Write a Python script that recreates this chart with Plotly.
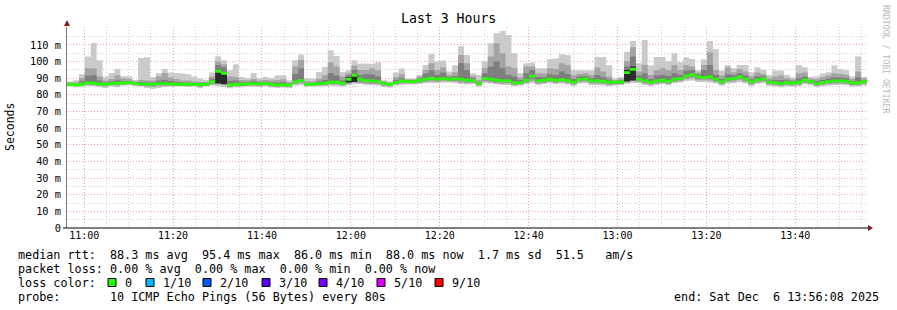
import plotly.graph_objects as go
import pandas as pd

# ---------------- data (ms) ----------------
START = "2025-12-06 10:56:08"
STEP_S = 80

median = [86.4, 86.0, 86.4, 87.2, 87.0, 86.6, 86.4, 86.8, 87.0, 87.2, 87.4, 86.8, 86.6, 86.4, 86.4, 86.8, 86.8, 86.6, 86.4, 86.4,
          86.4, 86.4, 86.2, 86.4, 88.0, 94.2, 93.0, 86.0, 86.4, 86.4, 86.6, 86.8, 86.6, 86.8,
          86.4, 86.0, 86.0, 86.0, 87.8, 88.6, 86.4, 86.4, 86.8, 87.0, 87.6, 87.6, 87.0, 89.4, 91.8, 89.4,
          88.6, 88.4, 88.0, 86.8, 86.4, 87.4, 88.4, 88.0, 88.0, 88.8, 89.4, 90.0, 89.4, 89.8, 89.4, 89.6, 89.4,
          88.8, 88.6, 86.8, 89.8, 89.4, 88.8, 88.4, 88.4, 87.2, 87.4, 88.8, 91.2, 88.4, 88.8, 89.4, 88.8, 89.2,
          88.6, 87.6, 89.2, 89.6, 88.4, 88.4, 88.2, 87.6, 87.6, 87.8, 93.4, 95.4, 89.4, 88.4, 87.6, 88.4, 88.8,
          88.2, 89.4, 89.8, 91.4, 92.2, 90.8, 90.4, 90.8, 89.4, 87.8, 89.4, 89.8, 90.8, 89.4, 87.8, 89.0, 89.6,
          87.6, 87.2, 86.8, 87.4, 87.0, 87.6, 88.8, 88.0, 86.8, 87.4, 88.0, 88.4, 88.4, 88.2, 87.2, 87.2, 88.0]

smoke_hi1 = [88.0, 88.8, 92.4, 103.0, 111.2, 100.8, 91.0, 93.2, 95.6, 91.2, 91.2, 89.0, 102.2, 102.6, 90.8, 93.0, 95.6, 93.4, 93.2, 92.8,
             92.4, 91.0, 89.8, 89.0, 93.4, 103.2, 100.8, 94.8, 98.4, 90.8, 90.2, 93.2, 90.2, 90.8,
             90.2, 91.8, 91.8, 88.8, 100.8, 104.2, 89.8, 89.8, 93.8, 96.8, 106.8, 103.4, 93.8, 94.8, 100.8, 98.8,
             98.8, 98.6, 99.6, 88.8, 88.0, 93.4, 95.8, 89.8, 89.8, 92.0, 98.0, 104.6, 100.0, 100.6, 94.0, 97.8, 109.2,
             104.0, 93.0, 92.0, 100.0, 111.0, 117.0, 118.4, 116.0, 105.2, 93.0, 99.0, 99.4, 96.0, 96.0, 101.6, 101.8, 104.4,
             104.0, 94.8, 94.8, 94.8, 94.8, 102.8, 102.8, 97.8, 89.8, 90.8, 106.0, 112.4, 99.0, 113.0, 97.8, 102.8, 102.8,
             100.2, 105.0, 99.6, 102.6, 101.6, 94.8, 101.4, 112.4, 107.4, 94.6, 98.0, 96.0, 98.0, 98.0, 93.6, 96.6, 95.0,
             92.0, 94.6, 94.6, 92.0, 90.6, 98.0, 96.6, 90.8, 91.0, 92.8, 93.6, 97.8, 95.6, 94.8, 91.0, 103.0, 90.8]

smoke_hi2 = [87.4, 87.5, 90.0, 96.0, 95.8, 91.0, 88.6, 89.5, 91.8, 89.8, 89.6, 88.0, 89.0, 88.6, 88.6, 91.0, 93.2, 90.5, 89.5, 88.6,
             88.6, 88.0, 87.8, 87.8, 91.0, 100.0, 98.4, 91.0, 90.6, 89.0, 88.8, 89.6, 88.6, 89.0,
             88.6, 89.0, 89.4, 87.6, 97.0, 101.0, 88.2, 88.0, 89.6, 91.8, 99.6, 97.0, 91.0, 93.0, 97.6, 95.0,
             95.0, 96.0, 94.8, 88.0, 87.4, 90.6, 92.4, 89.2, 89.2, 91.0, 95.0, 99.0, 95.0, 96.6, 92.0, 93.6, 104.0,
             99.0, 91.4, 89.0, 96.0, 103.0, 111.0, 105.0, 97.0, 96.0, 90.6, 97.0, 97.0, 93.0, 92.8, 96.0, 95.6, 99.0,
             98.0, 91.8, 92.6, 93.0, 92.0, 96.4, 94.0, 91.0, 89.0, 89.6, 100.4, 108.6, 94.0, 98.0, 92.0, 95.0, 96.0,
             95.0, 98.0, 95.0, 98.0, 97.0, 93.4, 98.0, 105.4, 95.0, 91.6, 96.6, 93.6, 95.6, 94.0, 91.0, 93.4, 92.6,
             90.0, 91.0, 91.6, 90.0, 89.2, 93.0, 93.4, 90.0, 89.6, 90.6, 91.6, 93.0, 92.6, 92.0, 89.6, 94.0, 89.8]

smoke_hi3 = [87.0, 86.8, 88.2, 91.5, 92.0, 88.6, 87.4, 88.0, 88.8, 88.4, 88.4, 87.5, 87.8, 87.4, 87.4, 88.6, 89.0, 88.4, 87.8, 87.4,
             87.5, 87.2, 87.0, 87.0, 89.6, 98.0, 96.6, 88.4, 88.6, 87.6, 87.6, 88.2, 87.6, 87.8,
             87.4, 87.4, 87.6, 86.8, 92.6, 96.0, 87.2, 87.2, 88.0, 89.0, 93.0, 91.6, 88.8, 91.6, 95.0, 92.0,
             92.4, 92.2, 91.0, 87.6, 87.0, 89.0, 90.0, 88.8, 88.8, 90.0, 92.8, 94.6, 92.0, 93.4, 90.8, 91.2, 99.0,
             95.0, 90.0, 87.8, 93.2, 97.0, 100.0, 96.0, 92.0, 91.0, 89.0, 93.0, 95.0, 90.8, 90.6, 92.4, 92.0, 94.0,
             92.6, 89.6, 91.0, 91.4, 90.2, 92.0, 90.6, 89.2, 88.4, 88.8, 97.0, 103.0, 91.6, 93.0, 89.6, 91.6, 92.0,
             91.4, 93.0, 92.0, 94.6, 95.0, 92.2, 95.0, 98.0, 92.0, 89.6, 92.4, 91.8, 93.0, 91.6, 89.4, 91.0, 91.2,
             88.8, 89.0, 89.0, 88.8, 88.2, 90.0, 91.0, 89.0, 88.2, 89.0, 89.8, 90.4, 90.4, 90.2, 88.4, 90.6, 89.0]

smoke_lo3 = [85.9, 85.6, 85.9, 86.6, 86.4, 86.0, 85.8, 86.2, 86.3, 86.6, 86.8, 86.2, 86.0, 85.6, 85.6, 86.0, 86.0, 86.0, 85.8, 85.8,
             85.8, 85.8, 85.4, 85.8, 87.0, 88.0, 87.6, 85.4, 85.8, 85.8, 86.0, 86.2, 86.0, 86.2,
             85.8, 85.4, 85.4, 85.4, 87.2, 87.8, 85.8, 85.8, 86.2, 86.4, 87.0, 87.0, 86.4, 87.6, 88.8, 88.2,
             87.6, 87.4, 87.2, 86.0, 85.8, 86.8, 87.6, 87.4, 87.4, 88.0, 88.6, 89.0, 88.6, 89.0, 88.6, 88.8, 88.4,
             87.8, 87.8, 86.2, 88.8, 88.4, 87.8, 87.6, 87.6, 86.4, 86.8, 88.0, 89.6, 87.6, 88.0, 88.6, 88.0, 88.4,
             87.8, 86.8, 88.4, 88.8, 87.6, 87.6, 87.4, 86.8, 86.8, 87.0, 88.8, 90.0, 88.6, 87.6, 86.8, 87.6, 88.0,
             87.4, 88.6, 89.0, 90.4, 91.2, 89.8, 89.6, 89.8, 88.4, 87.0, 88.6, 89.0, 89.8, 88.6, 87.0, 88.2, 88.8,
             86.8, 86.4, 86.0, 86.6, 86.2, 86.8, 88.0, 87.2, 86.0, 86.6, 87.2, 87.6, 87.6, 87.4, 86.4, 86.4, 87.2]

smoke_lo2 = [85.5, 85.2, 85.5, 86.0, 85.8, 85.4, 85.0, 85.6, 85.6, 86.0, 86.2, 85.8, 85.4, 85.0, 84.8, 85.2, 85.4, 85.4, 85.4, 85.4,
             85.2, 85.4, 84.8, 85.4, 86.2, 86.4, 86.2, 84.8, 85.2, 85.2, 85.4, 85.6, 85.4, 85.6,
             85.0, 84.8, 84.8, 84.8, 86.4, 86.8, 85.4, 85.4, 85.6, 85.8, 86.2, 86.2, 85.6, 86.6, 87.4, 87.2,
             86.8, 86.6, 86.4, 85.4, 85.2, 86.2, 86.8, 86.8, 86.8, 87.2, 87.8, 88.0, 87.8, 88.2, 88.0, 88.0, 87.4,
             87.0, 87.2, 85.6, 88.0, 87.6, 87.0, 86.8, 86.8, 85.8, 86.2, 87.2, 88.2, 86.8, 87.2, 87.8, 87.2, 87.6,
             87.0, 86.2, 87.6, 88.0, 86.8, 86.8, 86.6, 86.0, 86.2, 86.4, 87.6, 88.4, 87.8, 86.8, 86.2, 86.8, 87.2,
             86.6, 87.8, 88.2, 89.4, 90.0, 88.8, 88.8, 88.6, 87.6, 86.4, 87.8, 88.0, 88.8, 87.8, 86.2, 87.4, 88.0,
             86.2, 85.8, 85.4, 86.0, 85.6, 86.0, 87.2, 86.6, 85.4, 86.0, 86.4, 86.8, 86.8, 86.6, 85.8, 85.8, 86.4]

smoke_lo1 = [85.2, 84.8, 85.0, 85.4, 85.2, 84.6, 84.2, 85.0, 84.6, 85.6, 85.8, 85.4, 85.0, 84.2, 83.6, 84.2, 84.8, 85.0, 85.0, 85.0,
             84.8, 85.0, 84.0, 85.0, 85.6, 85.2, 84.8, 84.0, 84.6, 84.6, 85.0, 84.8, 84.8, 85.0,
             84.4, 84.2, 84.4, 84.0, 85.6, 86.0, 85.0, 85.0, 85.0, 85.2, 85.4, 85.2, 85.0, 85.8, 86.4, 86.4,
             86.0, 85.8, 85.6, 84.8, 84.6, 85.6, 86.0, 86.2, 86.2, 86.6, 87.0, 87.2, 87.0, 87.4, 87.4, 87.2, 86.6,
             86.2, 86.6, 85.0, 87.2, 86.8, 86.2, 86.0, 86.0, 85.2, 85.6, 86.4, 87.0, 86.0, 86.4, 87.0, 86.4, 86.8,
             86.2, 85.4, 86.8, 87.2, 86.0, 86.0, 85.6, 85.2, 85.6, 85.8, 86.6, 87.2, 87.0, 86.0, 85.4, 86.0, 86.4,
             85.8, 87.0, 87.4, 88.4, 88.6, 87.8, 87.6, 87.4, 86.8, 85.6, 86.8, 87.0, 87.6, 86.8, 85.4, 86.6, 87.0,
             85.4, 85.0, 84.6, 85.2, 84.8, 85.2, 86.4, 85.8, 84.6, 85.2, 85.6, 86.0, 86.0, 85.8, 85.0, 85.0, 85.6]

# steps where the innermost pings are widely spread (black core)
dark_steps = [25, 26, 47, 48, 94, 95]
dark_hi = [94.6, 93.4, 90.6, 92.6, 95.0, 97.0]
dark_lo = [86.8, 86.4, 87.4, 87.8, 88.0, 88.6]

y_ticks = [0, 10, 20, 30, 40, 50, 60, 70, 80, 90, 100, 110]
y_tick_text = ["0", "10 m", "20 m", "30 m", "40 m", "50 m", "60 m", "70 m", "80 m", "90 m", "100 m", "110 m"]

loss_labels = ["0", "1/10", "2/10", "3/10", "4/10", "5/10", "9/10"]
loss_colors = ["#26ff00", "#00b8ff", "#0059ff", "#5e00ff", "#7e00ff", "#dd00ff", "#ff0000"]

stats_line = "median rtt:  88.3 ms avg  95.4 ms max  86.0 ms min  88.0 ms now  1.7 ms sd  51.5   am/s"
loss_line = "packet loss: 0.00 % avg  0.00 % max  0.00 % min  0.00 % now"
probe_line = "probe:       10 ICMP Echo Pings (56 Bytes) every 80s"
end_line = "end: Sat Dec  6 13:56:08 2025"

# ---------------- figure ----------------
W, H = 897, 310
L, R, T, B = 67, 867, 27, 228
MONO = "DejaVu Sans Mono"
LEG = 11.75


def px(x):
    return (x - L) / (R - L)


def py(y):
    return (B - y) / (B - T)


def nb(s):
    return s.replace(" ", "\u00a0")


times = pd.date_range(START, periods=len(median) + 1, freq=f"{STEP_S}s")
xs = [t.strftime("%Y-%m-%d %H:%M:%S") for t in times]


def ext(a):
    return list(a) + [a[-1]]


fig = go.Figure()


def band(lo, hi, color):
    fig.add_trace(go.Scatter(x=xs, y=ext(lo), mode="lines", line=dict(width=0, shape="hv"),
                             hoverinfo="skip", showlegend=False))
    fig.add_trace(go.Scatter(x=xs, y=ext(hi), mode="lines", line=dict(width=0, shape="hv"),
                             fill="tonexty", fillcolor=color, hoverinfo="skip", showlegend=False))


band(smoke_lo1, smoke_hi1, "#cacaca")
band(smoke_lo2, smoke_hi2, "#a4a4a4")
band(smoke_lo3, smoke_hi3, "#7e7e7e")

# dark cores
dx, dy = [], []
for k, hi, lo in zip(dark_steps, dark_hi, dark_lo):
    a, b = xs[k], xs[k + 1]
    dx += [a, b, b, a, a, None]
    dy += [lo, lo, hi, hi, lo, None]
fig.add_trace(go.Scatter(x=dx, y=dy, mode="lines", line=dict(width=0), fill="toself",
                         fillcolor="#2a2a2a", hoverinfo="skip", showlegend=False))

# median band
half = 0.85
band([m - half for m in median], [m + half for m in median], loss_colors[0])

grid_major = "rgba(245,140,140,0.85)"
grid_minor = "rgba(200,200,200,0.9)"
GD = "1px,2px"

fig.update_layout(
    width=W, height=H,
    margin=dict(l=L, r=W - R, t=T, b=H - B, pad=0),
    paper_bgcolor="white", plot_bgcolor="white",
    showlegend=False,
    xaxis=dict(
        type="date",
        range=[xs[0], xs[-1]],
        tick0="2025-12-06 11:00:00", dtick=20 * 60 * 1000,
        tickformat="%H:%M",
        showgrid=True, gridcolor=grid_major, gridwidth=1, griddash=GD,
        minor=dict(dtick=5 * 60 * 1000, tick0="2025-12-06 11:00:00", showgrid=True,
                   gridcolor=grid_minor, gridwidth=1, griddash=GD),
        showline=False, zeroline=False, ticks="", automargin=False,
        tickfont=dict(family=MONO, size=10, color="#000"),
        fixedrange=True,
    ),
    yaxis=dict(
        range=[0, 120.8],
        tickmode="array", tickvals=y_ticks, ticktext=y_tick_text,
        showgrid=True, gridcolor=grid_major, gridwidth=1, griddash=GD,
        minor=dict(tickvals=[v + 5 for v in y_ticks], showgrid=True,
                   gridcolor=grid_minor, gridwidth=1, griddash=GD),
        showline=True, linecolor="#7a7a7a", linewidth=1,
        zeroline=False, ticks="", automargin=False, ticklabelstandoff=3,
        tickfont=dict(family=MONO, size=10.3, color="#000"),
        fixedrange=True,
    ),
)

shapes = []
# x axis line with arrow
shapes.append(dict(type="line", xref="paper", yref="paper", x0=px(63), x1=px(869), y0=0, y1=0,
                   line=dict(color="#000", width=1)))
shapes.append(dict(type="path", xref="paper", yref="paper",
                   path=f"M {px(868)} {py(225)} L {px(873)} {py(228)} L {px(868)} {py(231)} Z",
                   fillcolor="#7f1a1a", line=dict(width=0)))
# y axis arrow
shapes.append(dict(type="path", xref="paper", yref="paper",
                   path=f"M {px(64)} {py(26)} L {px(67)} {py(20)} L {px(70)} {py(26)} Z",
                   fillcolor="#7f1a1a", line=dict(width=0)))

annotations = []


def text(x, y, s, size=LEG, xanchor="left", color="#000", angle=0, family=MONO):
    annotations.append(dict(x=px(x), y=py(y), xref="paper", yref="paper", text=nb(s),
                            showarrow=False, xanchor=xanchor, yanchor="middle", textangle=angle,
                            font=dict(family=family, size=size, color=color)))


text(448, 19, "Last 3 Hours", size=13.2, xanchor="center")
text(10, 127, "Seconds", size=11.5, xanchor="center", angle=-90)
text(886, 59, "RRDTOOL / TOBI OETIKER", size=8.2, xanchor="center", angle=90, color="#b8b8b8")

text(16, 254.5, stats_line)
text(16, 268.5, loss_line)
text(16, 282.5, "loss color:")
text(16, 296.5, probe_line)
text(881, 296.5, end_line, xanchor="right")

box_x = [108, 146, 203, 262, 319, 377, 435]
for bx, lab, col in zip(box_x, loss_labels, loss_colors):
    shapes.append(dict(type="rect", xref="paper", yref="paper",
                       x0=px(bx), x1=px(bx + 8), y0=py(286.5), y1=py(278.5),
                       fillcolor=col, line=dict(color="#000", width=1)))
    text(bx + 15, 282.5, lab)

fig.update_layout(shapes=shapes, annotations=annotations)

fig.write_html("out.html", config={"displayModeBar": False})
